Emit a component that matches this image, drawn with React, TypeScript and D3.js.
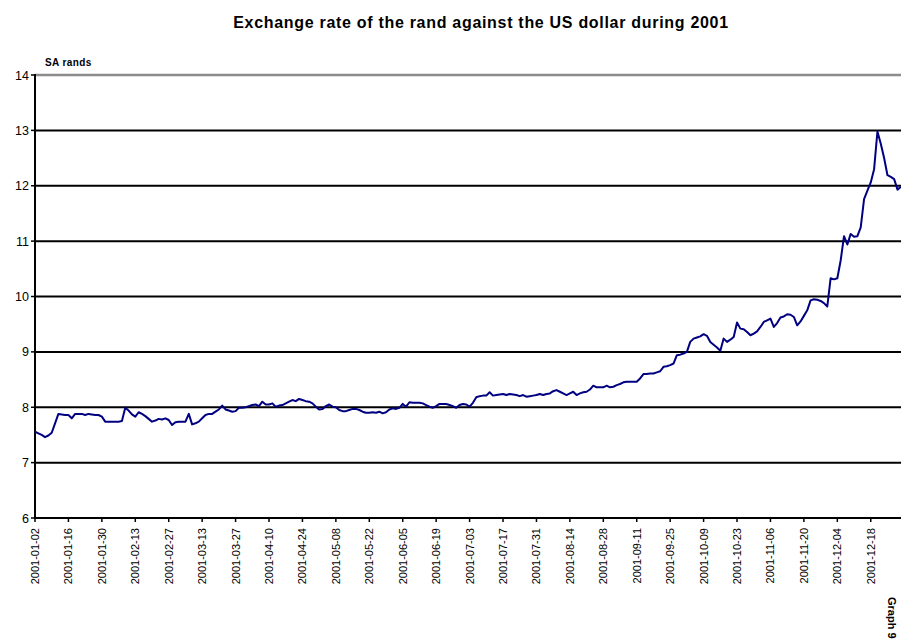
import React from "react";
import * as d3 from "d3";

const TITLE = "Exchange rate of the rand against the US dollar during 2001";
const Y_LABEL = "SA rands";
const GRAPH_LABEL = "Graph 9";

const yTicks = [6, 7, 8, 9, 10, 11, 12, 13, 14];

const tickLabels = [
  "2001-01-02", "2001-01-16", "2001-01-30", "2001-02-13", "2001-02-27", "2001-03-13",
  "2001-03-27", "2001-04-10", "2001-04-24", "2001-05-08", "2001-05-22", "2001-06-05",
  "2001-06-19", "2001-07-03", "2001-07-17", "2001-07-31", "2001-08-14", "2001-08-28",
  "2001-09-11", "2001-09-25", "2001-10-09", "2001-10-23", "2001-11-06", "2001-11-20",
  "2001-12-04", "2001-12-18",
];

// Rand per US dollar, one value per weekday from 2001-01-02 to 2001-12-31
const rates = [
  7.56, 7.53, 7.50, 7.46, 7.49, 7.54, 7.71, 7.88, 7.87, 7.86,
  7.86, 7.80, 7.88, 7.88, 7.88, 7.86, 7.88, 7.87, 7.86, 7.86,
  7.83, 7.74, 7.74, 7.74, 7.74, 7.74, 7.75, 7.99, 7.94, 7.87,
  7.83, 7.91, 7.88, 7.84, 7.79, 7.74, 7.76, 7.79, 7.78, 7.80,
  7.77, 7.68, 7.73, 7.74, 7.74, 7.74, 7.88, 7.69, 7.71, 7.74,
  7.80, 7.86, 7.88, 7.88, 7.92, 7.96, 8.03, 7.96, 7.94, 7.92,
  7.93, 7.99, 7.99, 8.00, 8.02, 8.04, 8.05, 8.02, 8.10, 8.05,
  8.05, 8.07, 8.01, 8.03, 8.04, 8.07, 8.10, 8.13, 8.11, 8.15,
  8.13, 8.11, 8.10, 8.07, 8.01, 7.96, 7.97, 8.02, 8.05, 8.01,
  8.00, 7.95, 7.93, 7.93, 7.95, 7.97, 7.97, 7.95, 7.92, 7.90,
  7.90, 7.91, 7.90, 7.92, 7.89, 7.91, 7.96, 7.98, 7.97, 7.99,
  8.06, 8.01, 8.09, 8.08, 8.08, 8.08, 8.07, 8.04, 8.01, 7.99,
  8.02, 8.06, 8.06, 8.06, 8.04, 8.02, 7.99, 8.04, 8.06, 8.05,
  8.01, 8.08, 8.18, 8.20, 8.21, 8.21, 8.27, 8.21, 8.22, 8.23,
  8.24, 8.22, 8.24, 8.23, 8.22, 8.20, 8.22, 8.19, 8.20, 8.21,
  8.22, 8.24, 8.22, 8.24, 8.25, 8.29, 8.31, 8.28, 8.25, 8.22,
  8.25, 8.28, 8.22, 8.25, 8.27, 8.28, 8.32, 8.39, 8.36, 8.36,
  8.36, 8.39, 8.36, 8.37, 8.40, 8.42, 8.45, 8.46, 8.46, 8.46,
  8.46, 8.52, 8.60, 8.60, 8.61, 8.61, 8.63, 8.65, 8.73, 8.74,
  8.76, 8.79, 8.94, 8.95, 8.97, 9.00, 9.18, 9.24, 9.26, 9.28,
  9.32, 9.29, 9.18, 9.13, 9.08, 9.02, 9.24, 9.18, 9.22, 9.27,
  9.53, 9.42, 9.41, 9.36, 9.30, 9.33, 9.37, 9.45, 9.54, 9.57,
  9.60, 9.45, 9.52, 9.62, 9.64, 9.68, 9.67, 9.63, 9.48, 9.55,
  9.65, 9.75, 9.93, 9.95, 9.94, 9.92, 9.88, 9.82, 10.33, 10.31,
  10.33, 10.65, 11.09, 10.94, 11.13, 11.08, 11.09, 11.25, 11.76, 11.91,
  12.06, 12.30, 12.98, 12.76, 12.50, 12.19, 12.16, 12.12, 11.93, 11.98,
];

// Weekday calendar (categories)
const fmt = d3.utcFormat("%Y-%m-%d");
const dates = d3
  .utcDay.range(new Date(Date.UTC(2001, 0, 2)), new Date(Date.UTC(2002, 0, 1)))
  .filter((d) => d.getUTCDay() !== 0 && d.getUTCDay() !== 6)
  .map(fmt);

const W = 901;
const H = 644;
const FONT = "'Liberation Sans', Arial, sans-serif";

export default function App() {
  const left = 35;
  const top = 75;
  const bottom = 518;
  const step = 3.343;

  const x = d3
    .scalePoint<string>()
    .domain(dates)
    .range([left, left + (dates.length - 1) * step]);
  const y = d3.scaleLinear().domain([6, 14]).range([bottom, top]);

  const data = dates.map((d, i) => ({ d, v: rates[i] }));
  const line = d3
    .line<{ d: string; v: number }>()
    .x((p) => x(p.d) as number)
    .y((p) => y(p.v));

  return (
    <svg
      width={W}
      height={H}
      style={{ position: "absolute", left: 0, top: 0, display: "block" }}
      fontFamily={FONT}
    >
      <rect x={0} y={0} width={W} height={H} fill="#fff" />
      <text x={481} y={28} textAnchor="middle" fontWeight="bold" fontSize={16} letterSpacing={0.7} fill="#000">
        {TITLE}
      </text>
      <text x={45} y={66} fontWeight="bold" fontSize={10} letterSpacing={0.4} fill="#000">
        {Y_LABEL}
      </text>

      {/* gridlines */}
      {yTicks.map((t) => (
        <g key={t}>
          <line
            x1={left}
            x2={W}
            y1={y(t)}
            y2={y(t)}
            stroke={t === 14 ? "#8c8c8c" : "#000"}
            strokeWidth={t === 14 ? 2.5 : 2}
          />
          <line x1={left - 4} x2={left} y1={y(t)} y2={y(t)} stroke="#000" strokeWidth={1.5} />
          <text x={29} y={y(t) + 4.5} textAnchor="end" fontSize={12.5} fill="#000">
            {t}
          </text>
        </g>
      ))}

      {/* y axis */}
      <line x1={left} x2={left} y1={top - 1} y2={bottom + 1} stroke="#000" strokeWidth={2} />

      {/* x ticks and labels */}
      {tickLabels.map((lab) => {
        const xx = x(lab) as number;
        return (
          <g key={lab}>
            <line x1={xx} x2={xx} y1={bottom} y2={bottom + 4} stroke="#000" strokeWidth={1.5} />
            <text
              transform={`translate(${xx + 4},${bottom + 10}) rotate(-90)`}
              textAnchor="end"
              fontSize={11}
              fill="#000"
            >
              {lab}
            </text>
          </g>
        );
      })}

      <path d={line(data) ?? ""} fill="none" stroke="#000080" strokeWidth={2} strokeLinejoin="round" />

      <text
        transform={`translate(888,597) rotate(90)`}
        fontWeight="bold"
        fontSize={11}
        fill="#000"
      >
        {GRAPH_LABEL}
      </text>
    </svg>
  );
}
